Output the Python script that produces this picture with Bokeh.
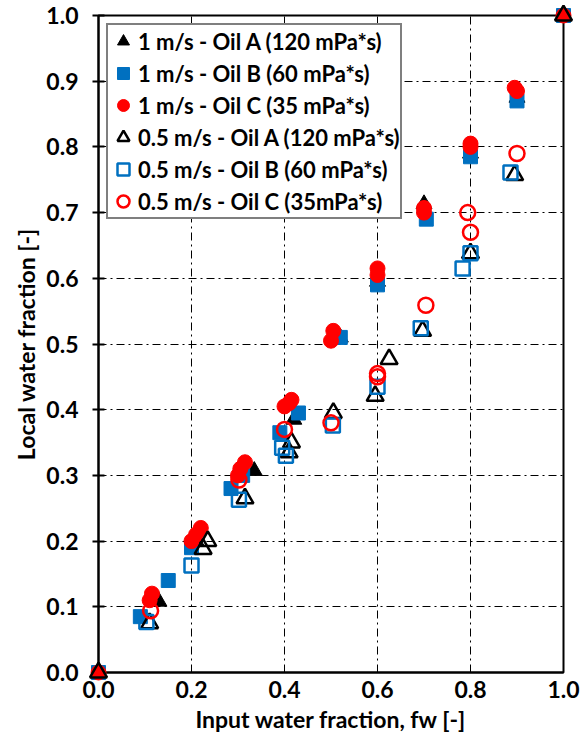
from bokeh.plotting import figure
from bokeh.models import Range1d, FixedTicker
from bokeh.embed import file_html
from bokeh.resources import INLINE

# ---- data ----
a1_x = [0, 0.13, 0.21, 0.335, 0.42, 0.52, 0.60, 0.70, 0.80, 0.90, 1.0]
a1_y = [0, 0.108, 0.20, 0.307, 0.385, 0.51, 0.595, 0.713, 0.79, 0.875, 1.0]

b1_x = [0, 0.09, 0.15, 0.20, 0.285, 0.31, 0.39, 0.43, 0.52, 0.60, 0.705, 0.80, 0.90, 1.0]
b1_y = [0, 0.085, 0.14, 0.19, 0.28, 0.30, 0.365, 0.395, 0.51, 0.59, 0.69, 0.785, 0.87, 1.0]

c1_x = [0, 0.11, 0.115, 0.20, 0.21, 0.22, 0.30, 0.305, 0.315, 0.40, 0.41, 0.415,
        0.50, 0.505, 0.60, 0.60, 0.70, 0.70, 0.80, 0.80, 0.895, 0.90, 1.0]
c1_y = [0, 0.11, 0.12, 0.20, 0.21, 0.22, 0.30, 0.31, 0.32, 0.405, 0.41, 0.415,
        0.505, 0.52, 0.605, 0.615, 0.70, 0.707, 0.80, 0.805, 0.89, 0.885, 1.0]

a05_x = [0, 0.11, 0.225, 0.235, 0.315, 0.41, 0.415, 0.505, 0.595, 0.625, 0.697, 0.80, 0.895, 1.0]
a05_y = [0, 0.075, 0.188, 0.20, 0.265, 0.335, 0.35, 0.395, 0.421, 0.477, 0.52, 0.638, 0.757, 1.0]

b05_x = [0.103, 0.20, 0.302, 0.395, 0.403, 0.504, 0.60, 0.693, 0.783, 0.80, 0.886]
b05_y = [0.077, 0.163, 0.263, 0.342, 0.33, 0.376, 0.435, 0.524, 0.615, 0.638, 0.761]

c05_x = [0.112, 0.302, 0.40, 0.50, 0.60, 0.60, 0.704, 0.794, 0.80, 0.90]
c05_y = [0.094, 0.293, 0.37, 0.38, 0.45, 0.455, 0.559, 0.70, 0.67, 0.79]

labels = ["1 m/s - Oil A (120 mPa*s)", "1 m/s - Oil B (60 mPa*s)", "1 m/s - Oil C (35 mPa*s)",
          "0.5 m/s - Oil A (120 mPa*s)", "0.5 m/s - Oil B (60 mPa*s)", "0.5 m/s - Oil C (35mPa*s)"]

x_ticks = [0.0, 0.2, 0.4, 0.6, 0.8, 1.0]
y_ticks = [0.0, 0.1, 0.2, 0.3, 0.4, 0.5, 0.6, 0.7, 0.8, 0.9, 1.0]

BLUE = "#0070C0"
RED = "#FF0000"
FONT = "Lato"

p = figure(width=586, height=744, output_backend="svg", toolbar_location=None,
           x_range=Range1d(0, 1), y_range=Range1d(0, 1),
           min_border_left=98, min_border_right=23, min_border_top=15, min_border_bottom=72)
p.background_fill_color = "white"
p.border_fill_color = "white"
p.outline_line_color = "black"
p.outline_line_width = 2

rs = [
    p.scatter(a1_x, a1_y, marker="triangle", size=16, color="black", legend_label=labels[0]),
    p.scatter(b1_x, b1_y, marker="square", size=14, color=BLUE, legend_label=labels[1]),
    p.scatter(c1_x, c1_y, marker="circle", size=15, color=RED, legend_label=labels[2]),
    p.scatter(a05_x, a05_y, marker="triangle", size=17, fill_color=None, line_color="black",
              line_width=2.5, legend_label=labels[3]),
    p.scatter(b05_x, b05_y, marker="square", size=14, fill_color=None, line_color=BLUE,
              line_width=2.5, legend_label=labels[4]),
    p.scatter(c05_x, c05_y, marker="circle", size=15, fill_color=None, line_color=RED,
              line_width=2.5, legend_label=labels[5]),
]
for r in rs:
    r.level = "overlay"

# axes
p.xaxis.ticker = FixedTicker(ticks=x_ticks)
p.yaxis.ticker = FixedTicker(ticks=y_ticks)
p.xaxis.major_label_overrides = {t: f"{t:.1f}" for t in x_ticks}
p.yaxis.major_label_overrides = {t: f"{t:.1f}" for t in y_ticks}
for ax in (p.xaxis[0], p.yaxis[0]):
    ax.axis_line_color = "black"
    ax.axis_line_width = 2
    ax.major_tick_line_color = "black"
    ax.major_tick_line_width = 2
    ax.minor_tick_line_color = None
    ax.major_label_text_font = FONT
    ax.major_label_text_font_style = "bold"
    ax.major_label_text_font_size = "23px"
    ax.major_label_text_color = "black"
    ax.axis_label_text_font = FONT
    ax.axis_label_text_font_style = "bold"
    ax.axis_label_text_font_size = "23px"
    ax.axis_label_text_color = "black"
p.xaxis.major_tick_in = 0
p.xaxis.major_tick_out = 0
p.xaxis.major_label_standoff = 8
p.yaxis.major_tick_in = 6
p.yaxis.major_tick_out = 6
p.yaxis.major_label_standoff = 14

p.yaxis.axis_label = "Local water fraction [-]"
p.yaxis.axis_label_standoff = 3
p.xaxis.axis_label = "Input water fraction, fw [-]"
p.xaxis.axis_label_standoff = 4

# grid
for g in (p.xgrid[0], p.ygrid[0]):
    g.grid_line_color = "black"
    g.grid_line_width = 1
    g.grid_line_dash = "8 4 2 4"
    g.grid_line_alpha = 1.0

# legend
lg = p.legend[0]
lg.location = "top_left"
lg.margin = 8
lg.padding = 0
lg.spacing = 0
lg.glyph_width = 30
lg.glyph_height = 32
lg.label_standoff = 0
lg.label_text_font = FONT
lg.label_text_font_style = "bold"
lg.label_text_font_size = "22px"
lg.label_text_color = "black"
lg.border_line_color = "black"
lg.border_line_width = 2
lg.background_fill_color = "white"
lg.background_fill_alpha = 1.0

open("out.html", "w").write(file_html(p, INLINE))
